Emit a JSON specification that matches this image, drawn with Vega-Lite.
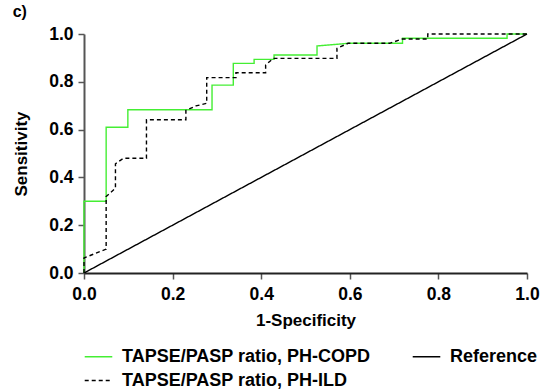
{
  "$schema": "https://vega.github.io/schema/vega-lite/v6.json",
  "autosize": "none",
  "width": 443,
  "height": 239,
  "padding": {"left": 84, "top": 34, "right": 18, "bottom": 118},
  "background": "white",
  "title": {"text": "c)", "anchor": "start", "frame": "bounds", "font": "Liberation Sans", "fontSize": 16, "fontWeight": "bold", "color": "black", "offset": 5, "dx": 0},
  "config": {
    "view": {"stroke": null},
    "axis": {"grid": false, "domainColor": "#555", "domainWidth": 2, "tickColor": "#555", "tickWidth": 1.5, "tickSize": 6, "labelFlush": false,
      "labelFont": "Liberation Sans", "labelFontWeight": "bold", "labelFontSize": 17.5, "labelColor": "black",
      "titleFont": "Liberation Sans", "titleFontWeight": "bold", "titleFontSize": 17, "titleColor": "black"}
  },
  "data": {"values": [
    {"s": "TAPSE/PASP ratio, PH-COPD", "i": 0, "fpr": 0, "sens": 0},
    {"s": "TAPSE/PASP ratio, PH-COPD", "i": 1, "fpr": 0, "sens": 0.30},
    {"s": "TAPSE/PASP ratio, PH-COPD", "i": 2, "fpr": 0.05, "sens": 0.30},
    {"s": "TAPSE/PASP ratio, PH-COPD", "i": 3, "fpr": 0.05, "sens": 0.61},
    {"s": "TAPSE/PASP ratio, PH-COPD", "i": 4, "fpr": 0.099, "sens": 0.61},
    {"s": "TAPSE/PASP ratio, PH-COPD", "i": 5, "fpr": 0.099, "sens": 0.683},
    {"s": "TAPSE/PASP ratio, PH-COPD", "i": 6, "fpr": 0.289, "sens": 0.683},
    {"s": "TAPSE/PASP ratio, PH-COPD", "i": 7, "fpr": 0.289, "sens": 0.786},
    {"s": "TAPSE/PASP ratio, PH-COPD", "i": 8, "fpr": 0.337, "sens": 0.786},
    {"s": "TAPSE/PASP ratio, PH-COPD", "i": 9, "fpr": 0.337, "sens": 0.877},
    {"s": "TAPSE/PASP ratio, PH-COPD", "i": 10, "fpr": 0.384, "sens": 0.877},
    {"s": "TAPSE/PASP ratio, PH-COPD", "i": 11, "fpr": 0.384, "sens": 0.894},
    {"s": "TAPSE/PASP ratio, PH-COPD", "i": 12, "fpr": 0.429, "sens": 0.894},
    {"s": "TAPSE/PASP ratio, PH-COPD", "i": 13, "fpr": 0.429, "sens": 0.912},
    {"s": "TAPSE/PASP ratio, PH-COPD", "i": 14, "fpr": 0.526, "sens": 0.912},
    {"s": "TAPSE/PASP ratio, PH-COPD", "i": 15, "fpr": 0.526, "sens": 0.950},
    {"s": "TAPSE/PASP ratio, PH-COPD", "i": 16, "fpr": 0.596, "sens": 0.961},
    {"s": "TAPSE/PASP ratio, PH-COPD", "i": 17, "fpr": 0.719, "sens": 0.961},
    {"s": "TAPSE/PASP ratio, PH-COPD", "i": 18, "fpr": 0.719, "sens": 0.982},
    {"s": "TAPSE/PASP ratio, PH-COPD", "i": 19, "fpr": 0.955, "sens": 0.982},
    {"s": "TAPSE/PASP ratio, PH-COPD", "i": 20, "fpr": 0.955, "sens": 1.0},
    {"s": "TAPSE/PASP ratio, PH-COPD", "i": 21, "fpr": 1.0, "sens": 1.0},
    {"s": "TAPSE/PASP ratio, PH-ILD", "i": 0, "fpr": 0, "sens": 0},
    {"s": "TAPSE/PASP ratio, PH-ILD", "i": 1, "fpr": 0, "sens": 0.063},
    {"s": "TAPSE/PASP ratio, PH-ILD", "i": 2, "fpr": 0.05, "sens": 0.10},
    {"s": "TAPSE/PASP ratio, PH-ILD", "i": 3, "fpr": 0.05, "sens": 0.32},
    {"s": "TAPSE/PASP ratio, PH-ILD", "i": 4, "fpr": 0.071, "sens": 0.355},
    {"s": "TAPSE/PASP ratio, PH-ILD", "i": 5, "fpr": 0.071, "sens": 0.457},
    {"s": "TAPSE/PASP ratio, PH-ILD", "i": 6, "fpr": 0.089, "sens": 0.48},
    {"s": "TAPSE/PASP ratio, PH-ILD", "i": 7, "fpr": 0.141, "sens": 0.48},
    {"s": "TAPSE/PASP ratio, PH-ILD", "i": 8, "fpr": 0.141, "sens": 0.641},
    {"s": "TAPSE/PASP ratio, PH-ILD", "i": 9, "fpr": 0.23, "sens": 0.641},
    {"s": "TAPSE/PASP ratio, PH-ILD", "i": 10, "fpr": 0.23, "sens": 0.68},
    {"s": "TAPSE/PASP ratio, PH-ILD", "i": 11, "fpr": 0.2525, "sens": 0.699},
    {"s": "TAPSE/PASP ratio, PH-ILD", "i": 12, "fpr": 0.277, "sens": 0.71},
    {"s": "TAPSE/PASP ratio, PH-ILD", "i": 13, "fpr": 0.277, "sens": 0.8175},
    {"s": "TAPSE/PASP ratio, PH-ILD", "i": 14, "fpr": 0.343, "sens": 0.8175},
    {"s": "TAPSE/PASP ratio, PH-ILD", "i": 15, "fpr": 0.343, "sens": 0.838},
    {"s": "TAPSE/PASP ratio, PH-ILD", "i": 16, "fpr": 0.41, "sens": 0.838},
    {"s": "TAPSE/PASP ratio, PH-ILD", "i": 17, "fpr": 0.41, "sens": 0.870},
    {"s": "TAPSE/PASP ratio, PH-ILD", "i": 18, "fpr": 0.427, "sens": 0.898},
    {"s": "TAPSE/PASP ratio, PH-ILD", "i": 19, "fpr": 0.571, "sens": 0.898},
    {"s": "TAPSE/PASP ratio, PH-ILD", "i": 20, "fpr": 0.571, "sens": 0.940},
    {"s": "TAPSE/PASP ratio, PH-ILD", "i": 21, "fpr": 0.596, "sens": 0.961},
    {"s": "TAPSE/PASP ratio, PH-ILD", "i": 22, "fpr": 0.690, "sens": 0.961},
    {"s": "TAPSE/PASP ratio, PH-ILD", "i": 23, "fpr": 0.7185, "sens": 0.979},
    {"s": "TAPSE/PASP ratio, PH-ILD", "i": 24, "fpr": 0.776, "sens": 0.979},
    {"s": "TAPSE/PASP ratio, PH-ILD", "i": 25, "fpr": 0.776, "sens": 1.0},
    {"s": "TAPSE/PASP ratio, PH-ILD", "i": 26, "fpr": 1.0, "sens": 1.0},
    {"s": "Reference", "i": 0, "fpr": 0, "sens": 0},
    {"s": "Reference", "i": 1, "fpr": 1, "sens": 1}
  ]},
  "mark": {"type": "line", "strokeWidth": 1.4},
  "encoding": {
    "x": {"field": "fpr", "type": "quantitative", "scale": {"domain": [0, 1], "nice": false},
      "axis": {"title": "1-Specificity", "values": [0, 0.2, 0.4, 0.6, 0.8, 1], "format": ".1f", "domainColor": "#222", "labelPadding": 6, "titlePadding": 10}},
    "y": {"field": "sens", "type": "quantitative", "scale": {"domain": [0, 1], "nice": false},
      "axis": {"title": "Sensitivity", "values": [0, 0.2, 0.4, 0.6, 0.8, 1], "format": ".1f", "labelPadding": 5, "titlePadding": 18}},
    "color": {"field": "s", "type": "nominal",
      "scale": {"domain": ["TAPSE/PASP ratio, PH-COPD", "TAPSE/PASP ratio, PH-ILD", "Reference"], "range": ["#44ee33", "black", "black"]},
      "legend": {"title": null, "orient": "none", "legendX": 0, "legendY": 308, "columns": 2, "columnPadding": 38, "rowPadding": -10,
        "symbolType": "stroke", "symbolSize": 760, "symbolStrokeWidth": 1.4, "labelFont": "Liberation Sans", "labelFontSize": 18, "labelFontWeight": "bold", "labelColor": "black", "labelLimit": 400, "labelOffset": 9, "padding": 0}},
    "strokeDash": {"field": "s", "type": "nominal",
      "scale": {"domain": ["TAPSE/PASP ratio, PH-COPD", "TAPSE/PASP ratio, PH-ILD", "Reference"], "range": [[1, 0], [4, 3], [1, 0]]}},
    "order": {"field": "i", "type": "quantitative"}
  }
}
